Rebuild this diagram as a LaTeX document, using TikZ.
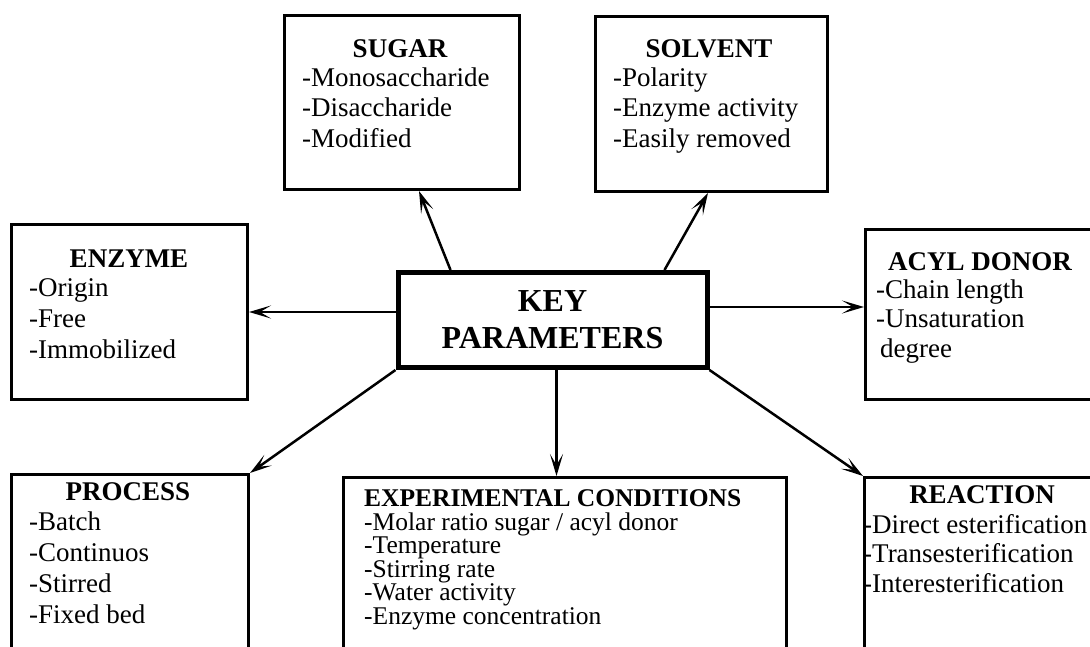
\documentclass[tikz,border=0pt]{standalone}
\usepackage{fontspec}
\setmainfont{Liberation Serif}
\usetikzlibrary{arrows.meta}

\begin{document}
\begin{tikzpicture}[x=1pt, y=-1pt,
  box/.style={draw, line width=3pt, rectangle, anchor=north west, inner sep=0pt},
  head/.style={font=\fontsize{27}{30}\selectfont\bfseries, anchor=base, inner sep=0pt},
  items/.style={font=\fontsize{27}{30.5}\selectfont, align=left, anchor=base west, inner sep=0pt},
  arr/.style={line width=2.5pt, -{Stealth[length=22pt, width=13pt, inset=11pt]}}]
\clip (0,0) rectangle (1090,646);
\node[box, minimum width=235, minimum height=174] (sugar) at (283,14) {};
\node[box, minimum width=232, minimum height=175] (solvent) at (594,15) {};
\node[box, minimum width=236, minimum height=175] (enzyme) at (10,223) {};
\node[box, minimum width=240, minimum height=170] (acyl) at (864,228) {};
\node[box, minimum width=237, minimum height=190] (process) at (10,473) {};
\node[box, minimum width=443, minimum height=190] (expcond) at (342,476) {};
\node[box, minimum width=240, minimum height=190] (reaction) at (863,476) {};
\node[box, line width=5pt, minimum width=309, minimum height=95, anchor=center, align=center,
  font=\fontsize{32}{37}\selectfont\bfseries] (key) at (552.5,320) {KEY\\PARAMETERS};
\node[head] (sugarhead) at (400,57) {SUGAR};
\node[items] (sugarlist) at (302,147) {-Monosaccharide\\-Disaccharide\\-Modified};
\node[head] (solventhead) at (709,57) {SOLVENT};
\node[items] (solventlist) at (613,147) {-Polarity\\-Enzyme activity\\-Easily removed};
\node[head] (enzymehead) at (129,267) {ENZYME};
\node[items, font=\fontsize{27}{31}\selectfont] (enzymelist) at (29,358) {-Origin\\-Free\\-Immobilized};
\node[head] (acylhead) at (980,270) {ACYL DONOR};
\node[items, font=\fontsize{27}{29.5}\selectfont] (acyllist) at (876,357) {-Chain length\\-Unsaturation\\\kern4pt degree};
\node[head] (processhead) at (128,500) {PROCESS};
\node[items, font=\fontsize{27}{31}\selectfont] (processlist) at (29,623) {-Batch\\-Continuos\\-Stirred\\-Fixed bed};
\node[items, font={\fontsize{25.5}{23.5}\selectfont\lineskiplimit=-50pt}] (expcondlist) at (364,624)
  {\textbf{EXPERIMENTAL CONDITIONS}\\-Molar ratio sugar / acyl donor\\-Temperature\\-Stirring rate\\-Water activity\\-Enzyme concentration};
\node[head] (reactionhead) at (982,503) {REACTION};
\node[items, font=\fontsize{27}{29.5}\selectfont] (reactionlist) at (863,592)
  {-Direct esterification\\-Transesterification\\-Interesterification};
\draw[arr] ([xshift=55pt]key.north west) -- ([xshift=136pt]sugar.south west);
\draw[arr] ([xshift=-45pt]key.north east) -- ([xshift=114pt]solvent.south west);
\draw[arr] ([yshift=8pt]key.west) -- ([yshift=8pt]key.west -| enzyme.east);
\draw[arr] ([yshift=13pt]key.east) -- ([yshift=13pt]key.east -| acyl.west);
\draw[arr] (key.south west) -- (process.north east);
\draw[arr] ([xshift=4pt]key.south) -- ([xshift=4pt]key.south |- expcond.north);
\draw[arr] (key.south east) -- (reaction.north west);
\end{tikzpicture}
\end{document}
